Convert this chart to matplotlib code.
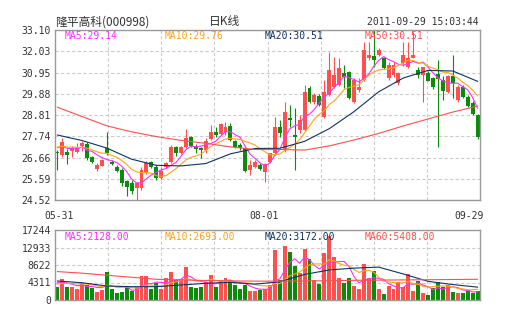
import numpy as np
import pandas as pd
import matplotlib
matplotlib.use("Agg")
import matplotlib.pyplot as plt

# daily candles 2011-05-31 .. 2011-09-29
opens = [26.96, 26.79, 26.96, 26.99, 26.96, 27.25, 27.35, 26.68, 26.07, 26.25,
         27.14, 26.45, 26.20, 26.03, 25.48, 25.36, 25.11, 25.13, 25.93, 26.42,
         26.20, 25.63, 26.19, 26.45, 27.18, 26.89, 27.19, 27.72, 27.21, 27.14,
         27.04, 27.58, 27.97, 27.85, 27.97, 28.26, 27.51, 27.30, 27.13, 26.03,
         26.20, 26.29, 25.95, 26.42, 26.88, 28.19, 27.04, 28.64, 27.79, 28.05,
         28.05, 30.16, 29.48, 29.77, 28.71, 29.82, 30.22, 30.32, 30.93, 30.98,
         29.47, 30.07, 30.58, 31.69, 31.79, 31.84, 31.69, 30.68, 30.83, 30.41,
         31.43, 31.25, 31.70, 31.08, 30.83, 30.94, 30.66, 30.88, 30.58, 29.99,
         30.78, 29.57, 30.24, 29.73, 29.43, 28.81]
highs = [27.04, 27.65, 27.09, 27.25, 27.40, 27.50, 27.45, 26.74, 26.39, 26.59,
         27.97, 26.54, 26.29, 26.14, 25.53, 25.53, 25.43, 26.19, 26.49, 26.49,
         26.29, 26.19, 26.44, 27.30, 27.25, 27.25, 28.09, 27.77, 27.33, 27.19,
         27.65, 28.31, 28.20, 28.41, 28.46, 28.39, 27.55, 27.41, 27.19, 26.54,
         26.54, 26.40, 26.39, 26.91, 28.69, 28.56, 29.45, 29.31, 29.16, 28.81,
         30.32, 30.27, 29.92, 29.87, 30.58, 31.99, 31.74, 31.69, 31.33, 31.03,
         30.68, 30.68, 32.49, 32.49, 33.10, 32.19, 31.74, 31.48, 31.48, 30.98,
         32.49, 32.49, 33.02, 31.23, 31.23, 31.03, 30.73, 31.59, 30.78, 30.83,
         31.84, 30.32, 30.32, 29.82, 29.52, 28.86]
lows = [26.03, 26.69, 26.34, 26.69, 26.89, 26.99, 26.54, 26.39, 25.98, 26.24,
        26.79, 26.29, 25.93, 25.23, 24.74, 24.82, 24.52, 25.02, 25.83, 26.14,
        25.53, 25.58, 26.14, 26.39, 26.74, 26.84, 27.14, 27.19, 26.89, 26.64,
        26.89, 27.55, 27.70, 27.80, 27.80, 27.50, 27.13, 27.04, 25.95, 25.78,
        26.14, 26.03, 25.44, 26.39, 26.79, 27.72, 26.94, 28.20, 26.03, 27.90,
        28.00, 29.42, 29.37, 29.26, 28.66, 29.77, 30.17, 30.27, 30.17, 29.62,
        29.42, 29.97, 30.53, 31.59, 31.23, 31.79, 31.13, 30.58, 30.73, 30.32,
        31.28, 31.18, 31.69, 30.68, 29.48, 30.53, 30.12, 27.21, 29.57, 29.92,
        29.67, 29.47, 29.67, 29.21, 28.81, 27.60]
closes = [26.87, 27.45, 26.79, 27.14, 27.21, 27.41, 26.62, 26.45, 26.29, 26.54,
          26.89, 26.34, 25.98, 25.39, 25.19, 24.99, 25.36, 26.03, 26.37, 26.20,
          25.62, 25.98, 26.39, 27.21, 26.89, 27.18, 27.63, 27.25, 27.09, 27.04,
          27.51, 27.97, 27.80, 28.34, 28.19, 27.55, 27.18, 27.13, 26.00, 26.29,
          26.45, 26.07, 26.32, 26.88, 28.22, 27.89, 28.98, 28.56, 27.68, 28.56,
          29.97, 29.48, 29.82, 29.31, 29.97, 31.08, 30.83, 31.18, 30.73, 29.67,
          30.58, 30.22, 32.09, 31.84, 31.59, 32.09, 31.18, 31.33, 31.33, 30.91,
          31.84, 31.67, 31.84, 30.83, 31.22, 30.54, 30.21, 30.61, 30.04, 30.78,
          30.41, 30.24, 29.73, 29.26, 28.86, 27.68]
volumes = [3276, 5173, 3276, 3128, 2710, 4114, 3695, 2882, 2045, 2463,
           6971, 2784, 1798, 2045, 3128, 2291, 3128, 5912, 5912, 2784,
           4262, 2784, 5493, 6971, 4927, 5173, 8203, 3276, 2882, 3202,
           4508, 6085, 3276, 4927, 5346, 4927, 3695, 2636, 3695, 2200,
           2291, 2463, 2636, 3695, 12317, 4927, 13302, 11898, 8376, 6725,
           12490, 10026, 4927, 3941, 11652, 15766, 10519, 5346, 4262, 5346,
           3449, 2636, 8868, 5346, 7144, 2636, 1478, 3449, 2636, 4508,
           3276, 6405, 2291, 4754, 1650, 1232, 2882, 4508, 3128, 3695,
           2045, 1798, 1798, 2463, 1798, 2217]

# sessions before 05-31, only used to start the short averages
pre_close = [27.0, 27.3, 27.1, 27.4, 27.3, 27.1, 27.35, 27.2, 27.3]
pre_volume = [3500, 3600, 3300, 4000, 3700, 4200, 4800, 4400, 4600]

# slow averages every 5 sessions
ma_idx = list(range(0, 86, 5))
ma20_price = [27.80, 27.52, 27.14, 26.58, 26.27, 26.24, 26.36, 26.85, 27.12,
              27.13, 27.48, 28.12, 28.98, 29.98, 30.68, 31.06, 31.03, 30.51]
ma50_price = [29.20, 28.73, 28.26, 27.96, 27.72, 27.53, 27.38, 27.20, 27.07,
              27.07, 27.04, 27.25, 27.55, 27.88, 28.26, 28.61, 28.96, 29.26]
ma20_vol = [4680, 4250, 3450, 3280, 3280, 3700, 4100, 4350, 3900,
            4500, 6300, 7400, 7850, 8100, 6400, 4600, 3800, 3170]
ma60_vol = [7000, 6600, 6100, 5600, 5100, 4950, 4800, 4700, 4650,
            4650, 4700, 4750, 4850, 4900, 4950, 5000, 5050, 5100]

price_ticks = [24.52, 25.59, 26.66, 27.74, 28.81, 29.88, 30.95, 32.03, 33.10]
vol_ticks = [0, 4311, 8622, 12933, 17244]
date_labels = ["05-31", "08-01", "09-29"]
date_pos = [0.01, 0.492, 0.974]
price_ma_labels = ["MA5:29.14", "MA10:29.76", "MA20:30.51", "MA50:30.51"]
vol_ma_labels = ["MA5:2128.00", "MA10:2693.00", "MA20:3172.00", "MA60:5408.00"]

RED = "#ff4f4f"
GREEN = "#0a8c0a"
MA_COLORS = ["#ff30ff", "#ffa31a", "#0f3363", "#ff4f4f"]
GRID = "#cccccc"
TXT = "#333333"
MONO = "DejaVu Sans Mono"

n = len(closes)
x = np.arange(n)
o, h, l, c = (np.array(a) for a in (opens, highs, lows, closes))
v = np.array(volumes)
col = np.where(c >= o, RED, GREEN)

cs = pd.Series(pre_close + closes)
vs = pd.Series(pre_volume + volumes)
k = len(pre_close)
ma5 = cs.rolling(5).mean().values[k:]
ma10 = cs.rolling(10).mean().values[k:]
vma5 = vs.rolling(5).mean().values[k:]
vma10 = vs.rolling(10).mean().values[k:]

fig = plt.figure(figsize=(5.05, 3.30), dpi=100)
ax = fig.add_axes([55 / 505, 130 / 330, 425 / 505, 170 / 330])
axv = fig.add_axes([55 / 505, 30 / 330, 425 / 505, 70 / 330])

vgrid = [-0.5 + j * n / 8 for j in range(1, 8)]

for a in (ax, axv):
    a.set_xlim(-0.5, n - 0.5)
    a.set_xticks(vgrid)
    a.tick_params(axis="x", length=0, labelbottom=False)
    a.tick_params(axis="y", length=0, pad=3, labelsize=7, labelcolor=TXT)
    a.grid(True, ls=(0, (3, 2)), color=GRID, lw=0.8)
    a.set_axisbelow(True)
    for s in a.spines.values():
        s.set_color("#999999")
        s.set_linewidth(1)
    for t in a.get_yticklabels():
        t.set_family(MONO)

# price panel
ax.vlines(x, l, h, colors=col, lw=0.8, zorder=2)
ax.bar(x, np.maximum(np.abs(c - o), 0.03), bottom=np.minimum(o, c),
       width=0.8, color=col, lw=0, zorder=2)
ax.plot(x, ma5, color=MA_COLORS[0], lw=0.8, zorder=3)
ax.plot(x, ma10, color=MA_COLORS[1], lw=0.8, zorder=3)
ax.plot(ma_idx, ma20_price, color=MA_COLORS[2], lw=0.8, zorder=3)
ax.plot(ma_idx, ma50_price, color=MA_COLORS[3], lw=0.8, zorder=3)
ax.set_ylim(price_ticks[0], price_ticks[-1])
ax.set_yticks(price_ticks)
ax.set_yticklabels([f"{t:.2f}" for t in price_ticks], family=MONO)

for j, (lab, cl) in enumerate(zip(price_ma_labels, MA_COLORS)):
    ax.text(0.0235 + j * 100 / 425, 0.962, lab, transform=ax.transAxes,
            color=cl, fontsize=7, family=MONO, va="center", ha="left")

for lab, p in zip(date_labels, date_pos):
    ax.text(p, -0.094, lab, transform=ax.transAxes, color=TXT, fontsize=7,
            family=MONO, va="center", ha="center")

# volume panel
axv.bar(x, v, width=0.8, color=col, lw=0, zorder=2)
axv.plot(x, vma5, color=MA_COLORS[0], lw=0.8, zorder=3)
axv.plot(x, vma10, color=MA_COLORS[1], lw=0.8, zorder=3)
axv.plot(ma_idx, ma20_vol, color=MA_COLORS[2], lw=0.8, zorder=3)
axv.plot(ma_idx, ma60_vol, color=MA_COLORS[3], lw=0.8, zorder=3)
axv.set_ylim(vol_ticks[0], vol_ticks[-1])
axv.set_yticks(vol_ticks)
axv.set_yticklabels([str(t) for t in vol_ticks], family=MONO)

for j, (lab, cl) in enumerate(zip(vol_ma_labels, MA_COLORS)):
    axv.text(0.0235 + j * 100 / 425, 0.907, lab, transform=axv.transAxes,
             color=cl, fontsize=7, family=MONO, va="center", ha="left")

# header
fig.text(55 / 505, 1 - 22 / 330, "隆平高科(000998)", color=TXT, fontsize=8.5,
         family=["Noto Sans CJK SC", "DejaVu Sans"], va="center", ha="left")
fig.text(225 / 505, 1 - 22 / 330, "日K线", color=TXT, fontsize=8.5,
         family=["Noto Sans CJK SC", "DejaVu Sans"], va="center", ha="center")
fig.text(479 / 505, 1 - 22 / 330, "2011-09-29 15:03:44", color=TXT,
         fontsize=7, family=MONO, va="center", ha="right")

fig.savefig("out.png", dpi=100, facecolor="white")
